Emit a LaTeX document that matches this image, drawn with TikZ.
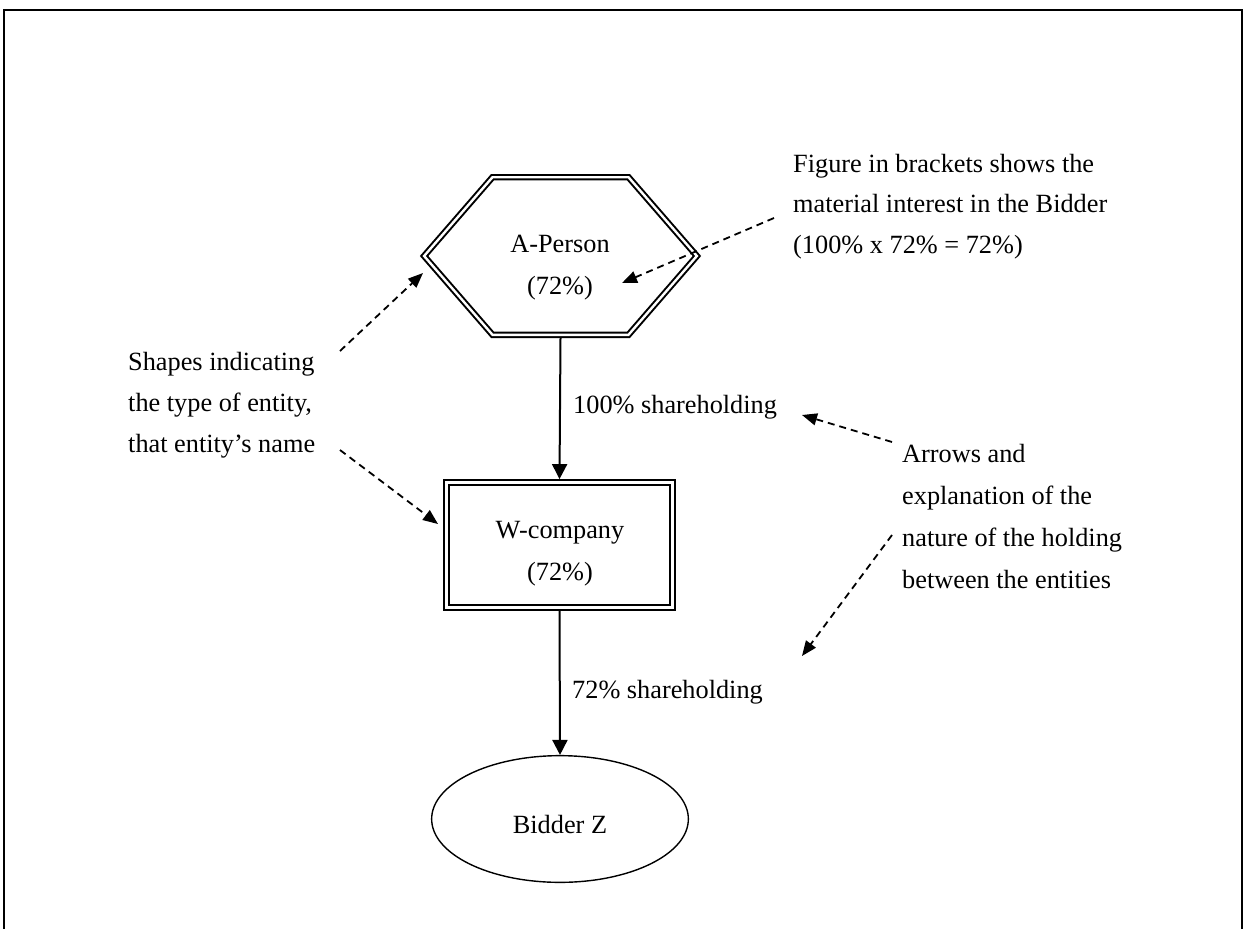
\documentclass[tikz,border=0pt]{standalone}
\usepackage{fontspec}
\setmainfont{Liberation Serif}
\usetikzlibrary{arrows.meta,shapes.geometric}
\begin{document}
\begin{tikzpicture}[x=1pt,y=-1pt,
  every node/.style={font=\fontsize{26.3}{41.5}\selectfont, inner sep=0pt},
  lefttxt/.style={anchor=base west},
  ctrtxt/.style={anchor=base},
  dbl/.style={draw, line width=2pt, double, double distance=2.4pt},
  solidarrow/.style={line width=2pt, -{Triangle[length=15pt,width=15pt]}},
  note/.style={line width=1.8pt, dash pattern=on 7pt off 5pt, -{Triangle[length=15pt,width=12pt]}},
]
\useasboundingbox (0,0) rectangle (1245,929);
\draw[line width=2.2pt] (4,929) -- (4,10) -- (1242,10) -- (1242,929);

% shapes
\node[minimum width=272.4pt, minimum height=157.2pt] (A) at (560.5,256) {};
\draw[dbl] ([xshift=-68pt]A.north) -- ([xshift=68pt]A.north) -- (A.east)
  -- ([xshift=68pt]A.south) -- ([xshift=-68pt]A.south) -- (A.west) -- cycle;
\node[dbl, minimum width=226pt, minimum height=125pt, outer sep=3.4pt] (W) at (559.5,545) {};
\node[draw, ellipse, line width=1.4pt, minimum width=256.7pt, minimum height=126.7pt] (B) at (560,819) {};

% texts
\node[ctrtxt] (At) at (560,252) {\fontsize{26.3}{42}\selectfont\begin{tabular}[t]{@{}c@{}}A-Person\\(72\%)\end{tabular}};
\node[ctrtxt] (Wt) at (560,538) {\fontsize{26.3}{42}\selectfont\begin{tabular}[t]{@{}c@{}}W-company\\(72\%)\end{tabular}};
\node[ctrtxt] (Bt) at (560,833) {Bidder Z};
\node[lefttxt] (s1) at (573,413) {100\% shareholding};
\node[lefttxt] (s2) at (572,698) {72\% shareholding};
\node[lefttxt] (L) at (128,370) {\fontsize{26.3}{41}\selectfont\begin{tabular}[t]{@{}l@{}}Shapes indicating\\the type of entity,\\that entity’s name\end{tabular}};
\node[lefttxt] (R1) at (793,172) {\fontsize{26.3}{40.5}\selectfont\begin{tabular}[t]{@{}l@{}}Figure in brackets shows the\\material interest in the Bidder\\(100\% x 72\% = 72\%)\end{tabular}};
\node[lefttxt] (R2) at (902,462) {\fontsize{26.3}{42}\selectfont\begin{tabular}[t]{@{}l@{}}Arrows and\\explanation of the\\nature of the holding\\between the entities\end{tabular}};

% connectors
\draw[solidarrow] ([yshift=-3.4pt]A.south) -- (W.north);
\draw[solidarrow] (W.south) -- (B.north);

% annotation arrows
\coordinate (n1s) at (340,351); \coordinate (n1e) at (423,273);
\coordinate (n2s) at (340,450); \coordinate (n2e) at (438,524);
\coordinate (n3s) at (774,218); \coordinate (n3e) at (622,283);
\coordinate (n4s) at (892,442); \coordinate (n4e) at (802,415);
\coordinate (n5s) at (892,535); \coordinate (n5e) at (802,656);
\draw[note] (n1s) -- (n1e);
\draw[note] (n2s) -- (n2e);
\draw[note] (n3s) -- (n3e);
\draw[note] (n4s) -- (n4e);
\draw[note] (n5s) -- (n5e);
\end{tikzpicture}
\end{document}
